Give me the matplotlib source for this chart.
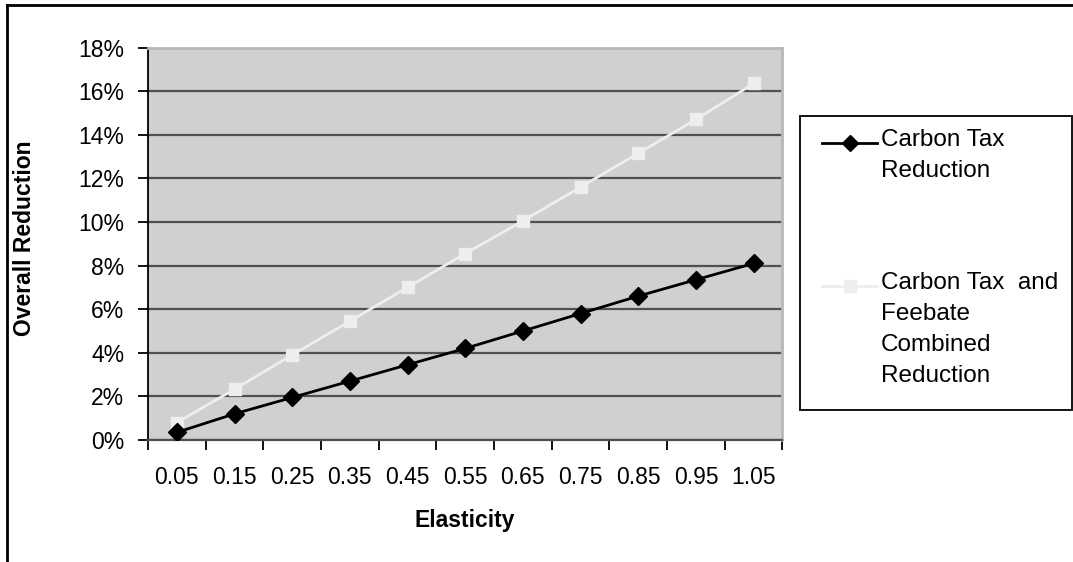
import numpy as np
import matplotlib.pyplot as plt
from matplotlib.lines import Line2D
from matplotlib.patches import Rectangle
from matplotlib.ticker import FixedLocator, FuncFormatter

plt.rcParams['font.family'] = ['Liberation Sans', 'DejaVu Sans']

# elasticity categories and the two reduction series (in %)
elasticity = ['0.05', '0.15', '0.25', '0.35', '0.45', '0.55', '0.65', '0.75', '0.85', '0.95', '1.05']
tax_only = [0.35, 1.2, 1.95, 2.7, 3.45, 4.2, 5.0, 5.8, 6.6, 7.35, 8.1]
tax_feebate = [0.8, 2.33, 3.9, 5.45, 7.0, 8.55, 10.05, 11.6, 13.15, 14.7, 16.35]
series_names = ['Carbon Tax\nReduction', 'Carbon Tax  and\nFeebate\nCombined\nReduction']

W, H = 1073, 562
fig = plt.figure(figsize=(W / 100, H / 100), dpi=100)
ax = fig.add_axes([148 / W, 1 - 440 / H, (782.5 - 148) / W, (440 - 47.5) / H])
ax.set_facecolor('#d0d0d0')

x = np.arange(len(elasticity)) + 0.5
l1, = ax.plot(x, tax_only, color='black', lw=2, marker='D', ms=9,
              mfc='black', mec='black', zorder=4)
l2, = ax.plot(x, tax_feebate, color='#eeeeee', lw=2, marker='s', ms=9,
              mfc='#eeeeee', mec='#eeeeee', zorder=3)

ax.set_xlim(0, len(elasticity))
ax.set_ylim(0, 18)
ax.yaxis.set_major_locator(FixedLocator(np.arange(0, 19, 2)))
ax.yaxis.set_major_formatter(FuncFormatter(lambda v, p: '%d%%' % v))
ax.yaxis.grid(True, color='#505050', lw=1.6, zorder=1)
ax.set_axisbelow(True)

# ticks between categories, labels in the middle
ax.set_xticks(np.arange(len(elasticity) + 1))
ax.set_xticklabels([])
ax.set_xticks(x, minor=True)
ax.set_xticklabels(elasticity, minor=True)
ax.tick_params(axis='x', which='major', length=7, width=1.3, color='black')
ax.tick_params(axis='x', which='minor', length=0, pad=19, labelsize=16.5)
ax.tick_params(axis='y', length=7, width=1.3, color='black', pad=10, labelsize=16.5)

ax.spines['left'].set_color('black')
ax.spines['left'].set_linewidth(1.3)
ax.spines['bottom'].set_color('#505050')
ax.spines['bottom'].set_linewidth(1.6)
for s in ['top', 'right']:
    ax.spines[s].set_color('#b8b8b8')
    ax.spines[s].set_linewidth(2)

fig.text(465 / W, 1 - 520 / H, 'Elasticity', ha='center', va='center',
         fontsize=16.5, fontweight='bold')
fig.text(25 / W, 1 - 238 / H, 'Overall Reduction', ha='center', va='center',
         rotation=90, fontsize=16.5, fontweight='bold')

# outer chart frame
fig.add_artist(Line2D([7 / W, 7 / W], [0, 1 - 5 / H], transform=fig.transFigure,
                      color='black', lw=2))
fig.add_artist(Line2D([7 / W, 1], [1 - 5 / H, 1 - 5 / H], transform=fig.transFigure,
                      color='black', lw=2))

# legend box
fig.add_artist(Rectangle((800 / W, 1 - 410 / H), (1072 - 800) / W, (410 - 116) / H,
                         transform=fig.transFigure, facecolor='white',
                         edgecolor='black', lw=1.3))
handle_y = [142.7, 285.7]
for line, name, hy in zip([l1, l2], series_names, handle_y):
    fig.add_artist(Line2D([822 / W, 877 / W], [1 - hy / H] * 2, transform=fig.transFigure,
                          color=line.get_color(), lw=2))
    fig.add_artist(Line2D([849.5 / W], [1 - hy / H], transform=fig.transFigure,
                          color=line.get_color(), marker=line.get_marker(), ms=8,
                          mfc=line.get_color(), mec=line.get_color(), lw=0))
    for i, part in enumerate(name.split('\n')):
        fig.text(881 / W, 1 - (hy + 3.5 + i * 31) / H, part, ha='left',
                 va='baseline', fontsize=17.5)

fig.savefig('out.png', dpi=100)
